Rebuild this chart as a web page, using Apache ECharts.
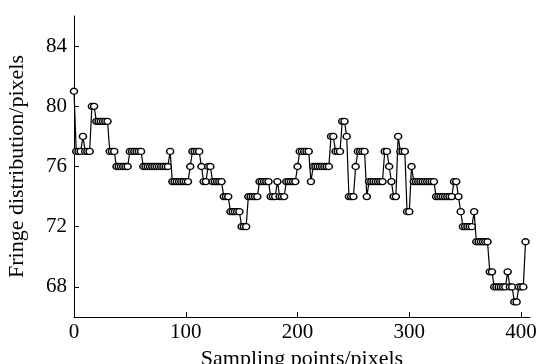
<!DOCTYPE html>
<html>
<head>
<meta charset="utf-8">
<script src="https://cdn.jsdelivr.net/npm/echarts@6/dist/echarts.min.js"></script>
<style>
  html, body { margin: 0; padding: 0; background: #fff; }
  #chart { width: 537px; height: 364px; }
</style>
</head>
<body>
<div id="chart"></div>
<script>
// sampling step along the x axis (pixels)
const step = 2;
// fringe position, one value per sampling point
const fringe = [
  81, 77, 77, 77, 78, 77, 77, 77, 80, 80,
  79, 79, 79, 79, 79, 79, 77, 77, 77, 76,
  76, 76, 76, 76, 76, 77, 77, 77, 77, 77,
  77, 76, 76, 76, 76, 76, 76, 76, 76, 76,
  76, 76, 76, 77, 75, 75, 75, 75, 75, 75,
  75, 75, 76, 77, 77, 77, 77, 76, 75, 75,
  76, 76, 75, 75, 75, 75, 75, 74, 74, 74,
  73, 73, 73, 73, 73, 72, 72, 72, 74, 74,
  74, 74, 74, 75, 75, 75, 75, 75, 74, 74,
  74, 75, 74, 74, 74, 75, 75, 75, 75, 75,
  76, 77, 77, 77, 77, 77, 75, 76, 76, 76,
  76, 76, 76, 76, 76, 78, 78, 77, 77, 77,
  79, 79, 78, 74, 74, 74, 76, 77, 77, 77,
  77, 74, 75, 75, 75, 75, 75, 75, 75, 77,
  77, 76, 75, 74, 74, 78, 77, 77, 77, 73,
  73, 76, 75, 75, 75, 75, 75, 75, 75, 75,
  75, 75, 74, 74, 74, 74, 74, 74, 74, 74,
  75, 75, 74, 73, 72, 72, 72, 72, 72, 73,
  71, 71, 71, 71, 71, 71, 69, 69, 68, 68,
  68, 68, 68, 68, 69, 68, 68, 67, 67, 68,
  68, 68, 71
];
const xTicks = [0, 100, 200, 300, 400];
const yTicks = [68, 72, 76, 80, 84];

const points = fringe.map((v, i) => [i * step, v]);

const font = 'Liberation Serif, Times New Roman, serif';
const chart = echarts.init(document.getElementById('chart'), null, { renderer: 'canvas' });

chart.setOption({
  animation: false,
  backgroundColor: '#fff',
  grid: { left: 74, right: 7, top: 16, bottom: 47, outerBoundsMode: 'none' },
  xAxis: {
    type: 'value',
    min: 0,
    max: 408,
    name: 'Sampling points/pixels',
    nameLocation: 'middle',
    nameGap: 28,
    nameTextStyle: { fontFamily: font, fontSize: 22, color: '#000' },
    axisLine: { lineStyle: { color: '#000', width: 1 } },
    axisTick: { inside: true, length: 5, customValues: xTicks, lineStyle: { color: '#000' } },
    axisLabel: { customValues: xTicks, margin: 5, fontFamily: font, fontSize: 21, color: '#000' },
    splitLine: { show: false }
  },
  yAxis: {
    type: 'value',
    min: 66,
    max: 86,
    name: 'Fringe distribution/pixels',
    nameLocation: 'middle',
    nameGap: 46,
    nameTextStyle: { fontFamily: font, fontSize: 22, color: '#000' },
    axisLine: { show: true, lineStyle: { color: '#000', width: 1 } },
    axisTick: { show: true, inside: true, length: 5, customValues: yTicks, lineStyle: { color: '#000' } },
    axisLabel: { customValues: yTicks, margin: 7, fontFamily: font, fontSize: 21, color: '#000' },
    splitLine: { show: false }
  },
  series: [{
    type: 'line',
    data: points,
    symbol: 'circle',
    symbolSize: [7, 6],
    showAllSymbol: true,
    lineStyle: { color: '#000', width: 1.2 },
    itemStyle: { color: '#fff', borderColor: '#000', borderWidth: 1.4 }
  }]
});
</script>
</body>
</html>
